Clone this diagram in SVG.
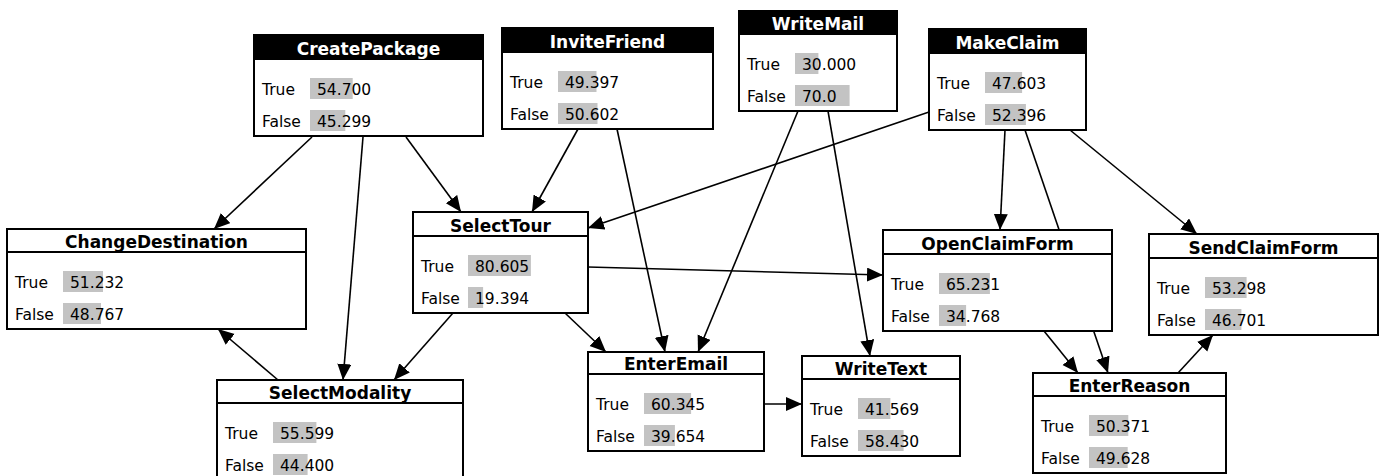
<svg xmlns="http://www.w3.org/2000/svg" width="1381" height="476" viewBox="0 0 1381 476">
<style>
.box{fill:#fff;stroke:#000;stroke-width:2}
.hdr{fill:#000;stroke:#000;stroke-width:2}
.sep{stroke:#000;stroke-width:2}
.title{font-family:"DejaVu Sans",sans-serif;font-weight:bold;font-size:17px;text-anchor:middle;fill:#000}
.top .title{fill:#fff}
.lbl,.val{font-family:"DejaVu Sans",sans-serif;font-size:15.5px;fill:#000}
.bar{fill:#c3c3c3}
.edge{stroke:#000;stroke-width:1.6;fill:none;marker-end:url(#arr)}
</style>
<defs>
<marker id="arr" markerUnits="userSpaceOnUse" markerWidth="18" markerHeight="16" refX="16" refY="7" orient="auto">
<path d="M0,0 L16,7 L0,14 Z" fill="#000"/>
</marker>
</defs>
<rect width="1381" height="476" fill="#fff"/>
<g id="connectors">
<line class="edge" x1="312" y1="137" x2="214" y2="229"/>
<line class="edge" x1="363" y1="137" x2="343" y2="380"/>
<line class="edge" x1="406" y1="137" x2="461" y2="212"/>
<line class="edge" x1="578" y1="129" x2="532" y2="212"/>
<line class="edge" x1="617" y1="129" x2="665" y2="352"/>
<line class="edge" x1="798" y1="111" x2="698" y2="352"/>
<line class="edge" x1="828" y1="111" x2="870" y2="356"/>
<line class="edge" x1="929" y1="112" x2="588" y2="228"/>
<line class="edge" x1="1005" y1="130" x2="1000" y2="230"/>
<line class="edge" x1="1025" y1="130" x2="1108" y2="373"/>
<line class="edge" x1="1070" y1="130" x2="1197" y2="234"/>
<line class="edge" x1="588" y1="267" x2="883" y2="275"/>
<line class="edge" x1="453" y1="313" x2="394" y2="380"/>
<line class="edge" x1="565" y1="313" x2="606" y2="352"/>
<line class="edge" x1="278" y1="380" x2="218" y2="329"/>
<line class="edge" x1="764" y1="404" x2="802" y2="404"/>
<line class="edge" x1="1178" y1="373" x2="1213" y2="335"/>
<line class="edge" x1="1044" y1="331" x2="1078" y2="373"/>
</g>

<g id="CreatePackage" class="node top">
<rect class="box" x="254" y="35" width="229" height="101"/>
<rect class="hdr" x="254" y="35" width="229" height="24"/>
<text class="title" x="368.5" y="55">CreatePackage</text>
<rect class="bar" x="310" y="78" width="42.7" height="21"/>
<text class="lbl" x="262" y="95">True</text><text class="val" x="317" y="95">54.700</text>
<rect class="bar" x="310" y="110" width="35.3" height="21"/>
<text class="lbl" x="262" y="127">False</text><text class="val" x="317" y="127">45.299</text>
</g>

<g id="InviteFriend" class="node top">
<rect class="box" x="502" y="28" width="211" height="101"/>
<rect class="hdr" x="502" y="28" width="211" height="24"/>
<text class="title" x="607.5" y="48">InviteFriend</text>
<rect class="bar" x="558" y="71" width="38.5" height="21"/>
<text class="lbl" x="510" y="88">True</text><text class="val" x="565" y="88">49.397</text>
<rect class="bar" x="558" y="103" width="39.5" height="21"/>
<text class="lbl" x="510" y="120">False</text><text class="val" x="565" y="120">50.602</text>
</g>

<g id="WriteMail" class="node top">
<rect class="box" x="739" y="11" width="158" height="100"/>
<rect class="hdr" x="739" y="11" width="158" height="23"/>
<text class="title" x="818" y="30">WriteMail</text>
<rect class="bar" x="795" y="53" width="23.4" height="21"/>
<text class="lbl" x="747" y="70">True</text><text class="val" x="802" y="70">30.000</text>
<rect class="bar" x="795" y="85" width="54.6" height="21"/>
<text class="lbl" x="747" y="102">False</text><text class="val" x="802" y="102">70.0</text>
</g>

<g id="MakeClaim" class="node top">
<rect class="box" x="929" y="29" width="157" height="101"/>
<rect class="hdr" x="929" y="29" width="157" height="24"/>
<text class="title" x="1007.5" y="49">MakeClaim</text>
<rect class="bar" x="985" y="72" width="37.1" height="21"/>
<text class="lbl" x="937" y="89">True</text><text class="val" x="992" y="89">47.603</text>
<rect class="bar" x="985" y="104" width="40.9" height="21"/>
<text class="lbl" x="937" y="121">False</text><text class="val" x="992" y="121">52.396</text>
</g>

<g id="ChangeDestination" class="node">
<rect class="box" x="7" y="229" width="299" height="100"/>
<line class="sep" x1="7" y1="252" x2="306" y2="252"/>
<text class="title" x="156.5" y="248">ChangeDestination</text>
<rect class="bar" x="63" y="271" width="40" height="21"/>
<text class="lbl" x="15" y="288">True</text><text class="val" x="70" y="288">51.232</text>
<rect class="bar" x="63" y="303" width="38" height="21"/>
<text class="lbl" x="15" y="320">False</text><text class="val" x="70" y="320">48.767</text>
</g>

<g id="SelectTour" class="node">
<rect class="box" x="413" y="212" width="175" height="101"/>
<line class="sep" x1="413" y1="236" x2="588" y2="236"/>
<text class="title" x="500.5" y="232">SelectTour</text>
<rect class="bar" x="468" y="255" width="62.9" height="21"/>
<text class="lbl" x="421" y="272">True</text><text class="val" x="475" y="272">80.605</text>
<rect class="bar" x="468" y="287" width="15.1" height="21"/>
<text class="lbl" x="421" y="304">False</text><text class="val" x="475" y="304">19.394</text>
</g>

<g id="OpenClaimForm" class="node">
<rect class="box" x="883" y="230" width="229" height="101"/>
<line class="sep" x1="883" y1="254" x2="1112" y2="254"/>
<text class="title" x="997.5" y="250">OpenClaimForm</text>
<rect class="bar" x="939" y="273" width="50.9" height="21"/>
<text class="lbl" x="891" y="290">True</text><text class="val" x="946" y="290">65.231</text>
<rect class="bar" x="939" y="305" width="27.1" height="21"/>
<text class="lbl" x="891" y="322">False</text><text class="val" x="946" y="322">34.768</text>
</g>

<g id="SendClaimForm" class="node">
<rect class="box" x="1149" y="234" width="229" height="101"/>
<line class="sep" x1="1149" y1="258" x2="1378" y2="258"/>
<text class="title" x="1263.5" y="254">SendClaimForm</text>
<rect class="bar" x="1205" y="277" width="41.6" height="21"/>
<text class="lbl" x="1157" y="294">True</text><text class="val" x="1212" y="294">53.298</text>
<rect class="bar" x="1205" y="309" width="36.4" height="21"/>
<text class="lbl" x="1157" y="326">False</text><text class="val" x="1212" y="326">46.701</text>
</g>

<g id="SelectModality" class="node">
<rect class="box" x="217" y="380" width="246" height="101"/>
<line class="sep" x1="217" y1="403" x2="463" y2="403"/>
<text class="title" x="340" y="399">SelectModality</text>
<rect class="bar" x="273" y="422" width="43.4" height="21"/>
<text class="lbl" x="225" y="439">True</text><text class="val" x="280" y="439">55.599</text>
<rect class="bar" x="273" y="454" width="34.6" height="21"/>
<text class="lbl" x="225" y="471">False</text><text class="val" x="280" y="471">44.400</text>
</g>

<g id="EnterEmail" class="node">
<rect class="box" x="588" y="352" width="176" height="99"/>
<line class="sep" x1="588" y1="374" x2="764" y2="374"/>
<text class="title" x="676" y="370">EnterEmail</text>
<rect class="bar" x="644" y="393" width="47.1" height="21"/>
<text class="lbl" x="596" y="410">True</text><text class="val" x="651" y="410">60.345</text>
<rect class="bar" x="644" y="425" width="30.9" height="21"/>
<text class="lbl" x="596" y="442">False</text><text class="val" x="651" y="442">39.654</text>
</g>

<g id="WriteText" class="node">
<rect class="box" x="802" y="356" width="158" height="100"/>
<line class="sep" x1="802" y1="379" x2="960" y2="379"/>
<text class="title" x="881" y="375">WriteText</text>
<rect class="bar" x="858" y="398" width="32.4" height="21"/>
<text class="lbl" x="810" y="415">True</text><text class="val" x="865" y="415">41.569</text>
<rect class="bar" x="858" y="430" width="45.6" height="21"/>
<text class="lbl" x="810" y="447">False</text><text class="val" x="865" y="447">58.430</text>
</g>

<g id="EnterReason" class="node">
<rect class="box" x="1033" y="373" width="193" height="100"/>
<line class="sep" x1="1033" y1="396" x2="1226" y2="396"/>
<text class="title" x="1129.5" y="392">EnterReason</text>
<rect class="bar" x="1089" y="415" width="39.3" height="21"/>
<text class="lbl" x="1041" y="432">True</text><text class="val" x="1096" y="432">50.371</text>
<rect class="bar" x="1089" y="447" width="38.7" height="21"/>
<text class="lbl" x="1041" y="464">False</text><text class="val" x="1096" y="464">49.628</text>
</g>
</svg>
